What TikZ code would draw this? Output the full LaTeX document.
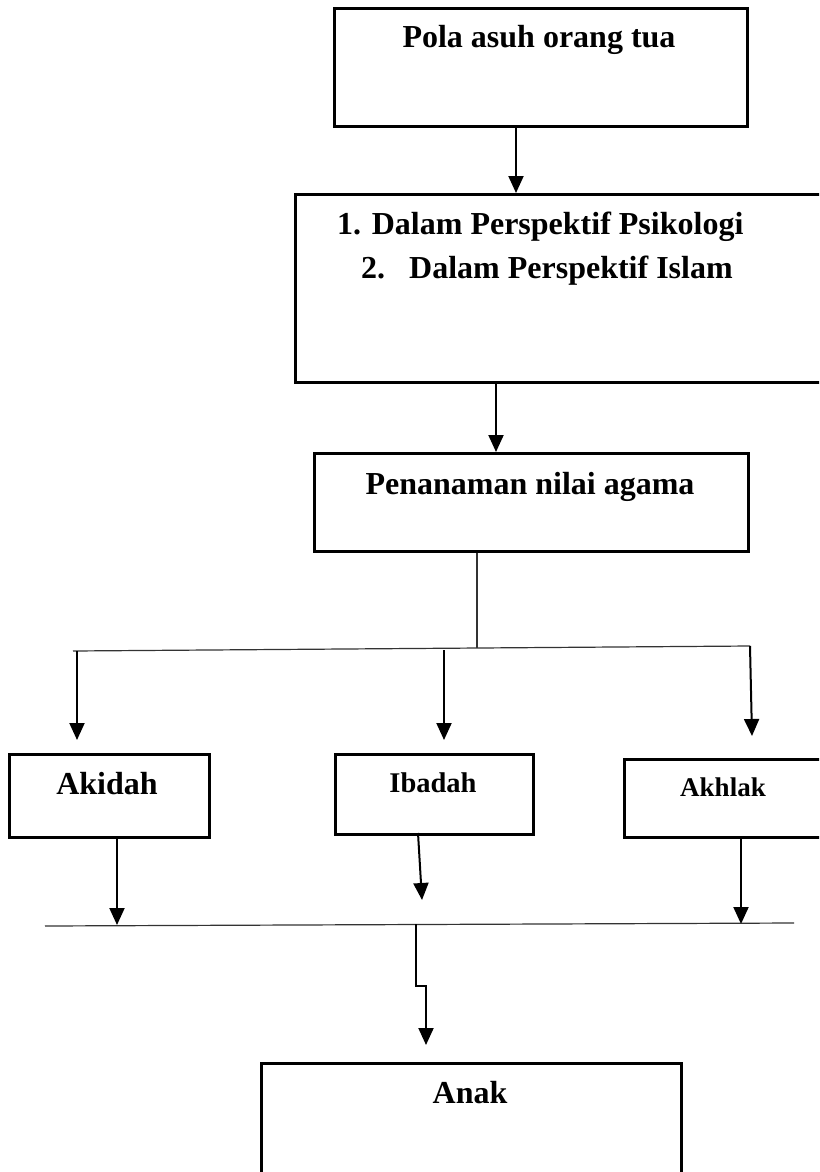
\documentclass[tikz,border=0pt]{standalone}
\usepackage{fontspec}
\setmainfont{Liberation Serif}
\usetikzlibrary{arrows.meta}
\begin{document}
\begin{tikzpicture}[x=1pt,y=-1pt,
  box/.style={draw=black,line width=2.6pt,rectangle,inner sep=0pt,anchor=north west},
  lbl/.style={font=\bfseries\fontsize{32}{38}\selectfont,anchor=base,inner sep=0pt},
  arr/.style={line width=2pt,-{Triangle[length=17pt,width=15pt]}},
  thin/.style={line width=1.2pt,draw=black!80},
  plain/.style={line width=2pt}]
\useasboundingbox (0,0) rectangle (819,1172);
\clip (0,0) rectangle (819,1172);
% boxes
\node[box,minimum width=413pt,minimum height=118pt] (b1) at (333,7) {};
\node[box,minimum width=540pt,minimum height=188pt] (b2) at (294,193) {};
\node[box,minimum width=434pt,minimum height=98pt] (b3) at (313,452) {};
\node[box,minimum width=200pt,minimum height=83pt] (bA) at (8,753) {};
\node[box,minimum width=198pt,minimum height=80pt] (bI) at (334,753) {};
\node[box,minimum width=210pt,minimum height=78pt] (bK) at (623,758) {};
\node[box,minimum width=420pt,minimum height=130pt] (bN) at (260,1062) {};
% texts
\node[lbl] (t1) at (539,48) {Pola asuh orang tua};
\node[lbl,anchor=base west] (t2a) at (337,234) {1. Dalam Perspektif Psikologi};
\node[lbl,anchor=base west] (t2b) at (361,278) {2.\hspace{24pt}Dalam Perspektif Islam};
\node[lbl] (t3) at (530,494) {Penanaman nilai agama};
\node[lbl] (tA) at (107,794) {Akidah};
\node[lbl,font=\bfseries\fontsize{28.5}{34}\selectfont] (tI) at (433,792) {Ibadah};
\node[lbl,font=\bfseries\fontsize{27}{32}\selectfont] (tK) at (723,796) {Akhlak};
\node[lbl] (tN) at (470,1103) {Anak};
% helper coordinates
\coordinate (x1) at (516,0);
\coordinate (x2) at (496,0);
\coordinate (x3) at (477,0);
\coordinate (hL) at (73,651);
\coordinate (hM) at (477,648);
\coordinate (hR) at (750,646);
\coordinate (dA1) at (77,651);
\coordinate (dA2) at (77,740);
\coordinate (dI1) at (444,650);
\coordinate (dI2) at (444,740);
\coordinate (dK1) at (750,646);
\coordinate (dK2) at (752,736);
\coordinate (uA) at (117,925);
\coordinate (uI) at (422,900);
\coordinate (uK) at (741,924);
\coordinate (gL) at (45,926);
\coordinate (gR) at (794,923);
\coordinate (s0) at (416,924);
\coordinate (s1) at (416,986);
\coordinate (s2) at (426,986);
\coordinate (s3) at (426,1045);
% connectors
\draw[arr] (b1.south -| x1) -- (b2.north -| x1);
\draw[arr] (b2.south -| x2) -- (b3.north -| x2);
\draw[thin] (b3.south -| x3) -- (hM);
\draw[thin] (hL) -- (hR);
\draw[arr] (dA1) -- (dA2);
\draw[arr] (dI1) -- (dI2);
\draw[arr] (dK1) -- (dK2);
\draw[arr] (bA.south -| uA) -- (uA);
\draw[arr] (418,833) -- (uI);
\draw[arr] (bK.south -| uK) -- (uK);
\draw[thin] (gL) -- (gR);
\draw[arr] (s0) -- (s1) -- (s2) -- (s3);
\end{tikzpicture}
\end{document}
